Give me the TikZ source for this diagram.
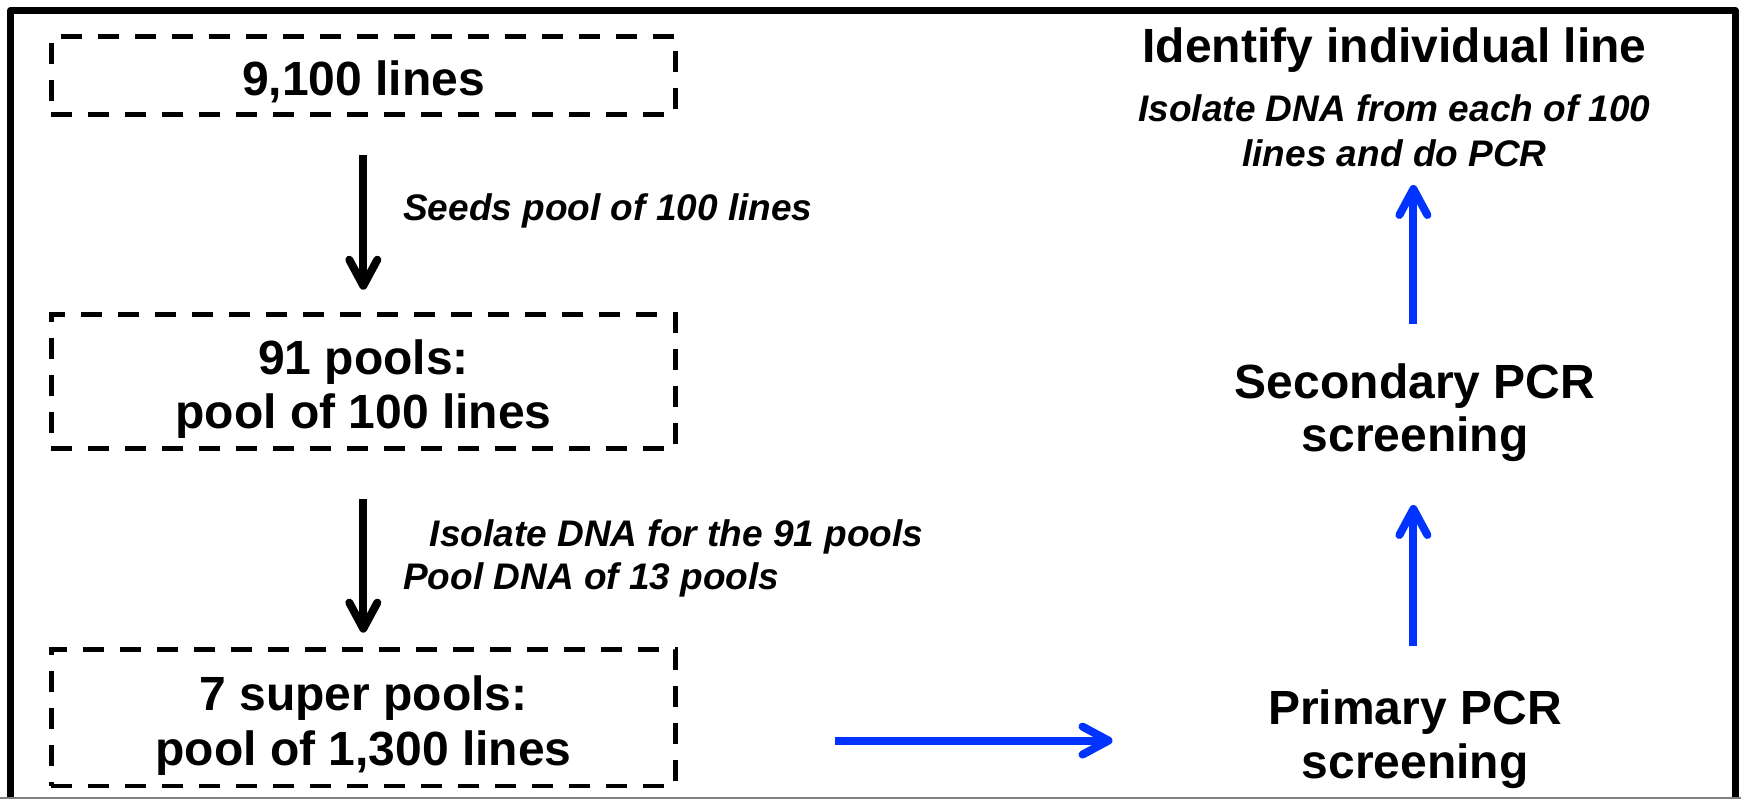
\documentclass[tikz,border=0pt]{standalone}
\usepackage{fontspec}
\setmainfont{Liberation Sans}
\usetikzlibrary{arrows.meta}
\definecolor{arrowblue}{RGB}{0,51,255}
\begin{document}
\begin{tikzpicture}[x=1pt,y=-1pt,
  big/.style={font=\fontsize{48}{52}\selectfont\bfseries, inner sep=0pt, anchor=base},
  note/.style={font=\fontsize{37}{40}\selectfont\bfseries\itshape, inner sep=0pt, anchor=base},
  dashbox/.style={draw, line width=4.8pt, dash pattern=on 21pt off 16pt, minimum width=624pt, inner sep=0pt},
  tipstyle/.style={-{Straight Barb[length=26pt,width=28pt,round]}},
  blackarrow/.style={line width=8pt, tipstyle},
  bluearrow/.style={line width=8pt, draw=arrowblue, tipstyle}
]
\useasboundingbox (0,0) rectangle (1741,799);
% frame
\draw[line width=7pt, line join=round] (10.5,799) -- (10.5,10.3) -- (1735,10.3) -- (1735,799);
\draw[gray, line width=1.5pt] (0,798.2) -- (1741,798.2);
% boxes
\node[dashbox, minimum height=77.8pt] (b1) at (363.3,75.6) {};
\node[dashbox, minimum height=134.5pt] (b2) at (363.3,381.4) {};
\node[dashbox, minimum height=136.5pt] (b3) at (363.3,717.8) {};
% box texts
\node[big] (t1) at (363.5,95.5) {9,100 lines};
\node[big] (t2a) at (363.5,375) {91 pools:};
\node[big] (t2b) at (363.5,428.6) {pool of 100 lines};
\node[big] (t3a) at (363.5,710.6) {7 super pools:};
\node[big] (t3b) at (363.5,765) {pool of 1,300 lines};
% left labels
\node[note, anchor=base west] (l1) at (403,221) {Seeds pool of 100 lines};
\node[note, anchor=base west] (l2) at (429.7,546) {Isolate DNA for the 91 pools};
\node[note, anchor=base west] (l3) at (403,589.6) {Pool DNA of 13 pools};
% right column
\node[big] (id) at (1394.5,63) {Identify individual line};
\node[note] (iso1) at (1394.5,122) {Isolate DNA from each of 100};
\node[note] (iso2) at (1394.5,167) {lines and do PCR};
\node[big] (sec1) at (1415,398.6) {Secondary PCR};
\node[big] (sec2) at (1415,452) {screening};
\node[big] (pri1) at (1415,724) {Primary PCR};
\node[big] (pri2) at (1415,778) {screening};
% arrow end points
\coordinate (hs) at (835,740.6);
\coordinate (he) at (1112.5,740.6);
\coordinate (u1s) at (1413.4,646);
\coordinate (u1e) at (1413.4,505);
\coordinate (u2s) at (1413.4,324);
\coordinate (u2e) at (1413.4,185);
% arrows
\draw[blackarrow, shorten <=38pt, shorten >=22pt] (b1.south) -- (b2.north);
\draw[blackarrow, shorten <=48pt, shorten >=14.5pt] (b2.south) -- (b3.north);
\draw[bluearrow] (hs) -- (he);
\draw[bluearrow] (u1s) -- (u1e);
\draw[bluearrow] (u2s) -- (u2e);
\end{tikzpicture}
\end{document}
